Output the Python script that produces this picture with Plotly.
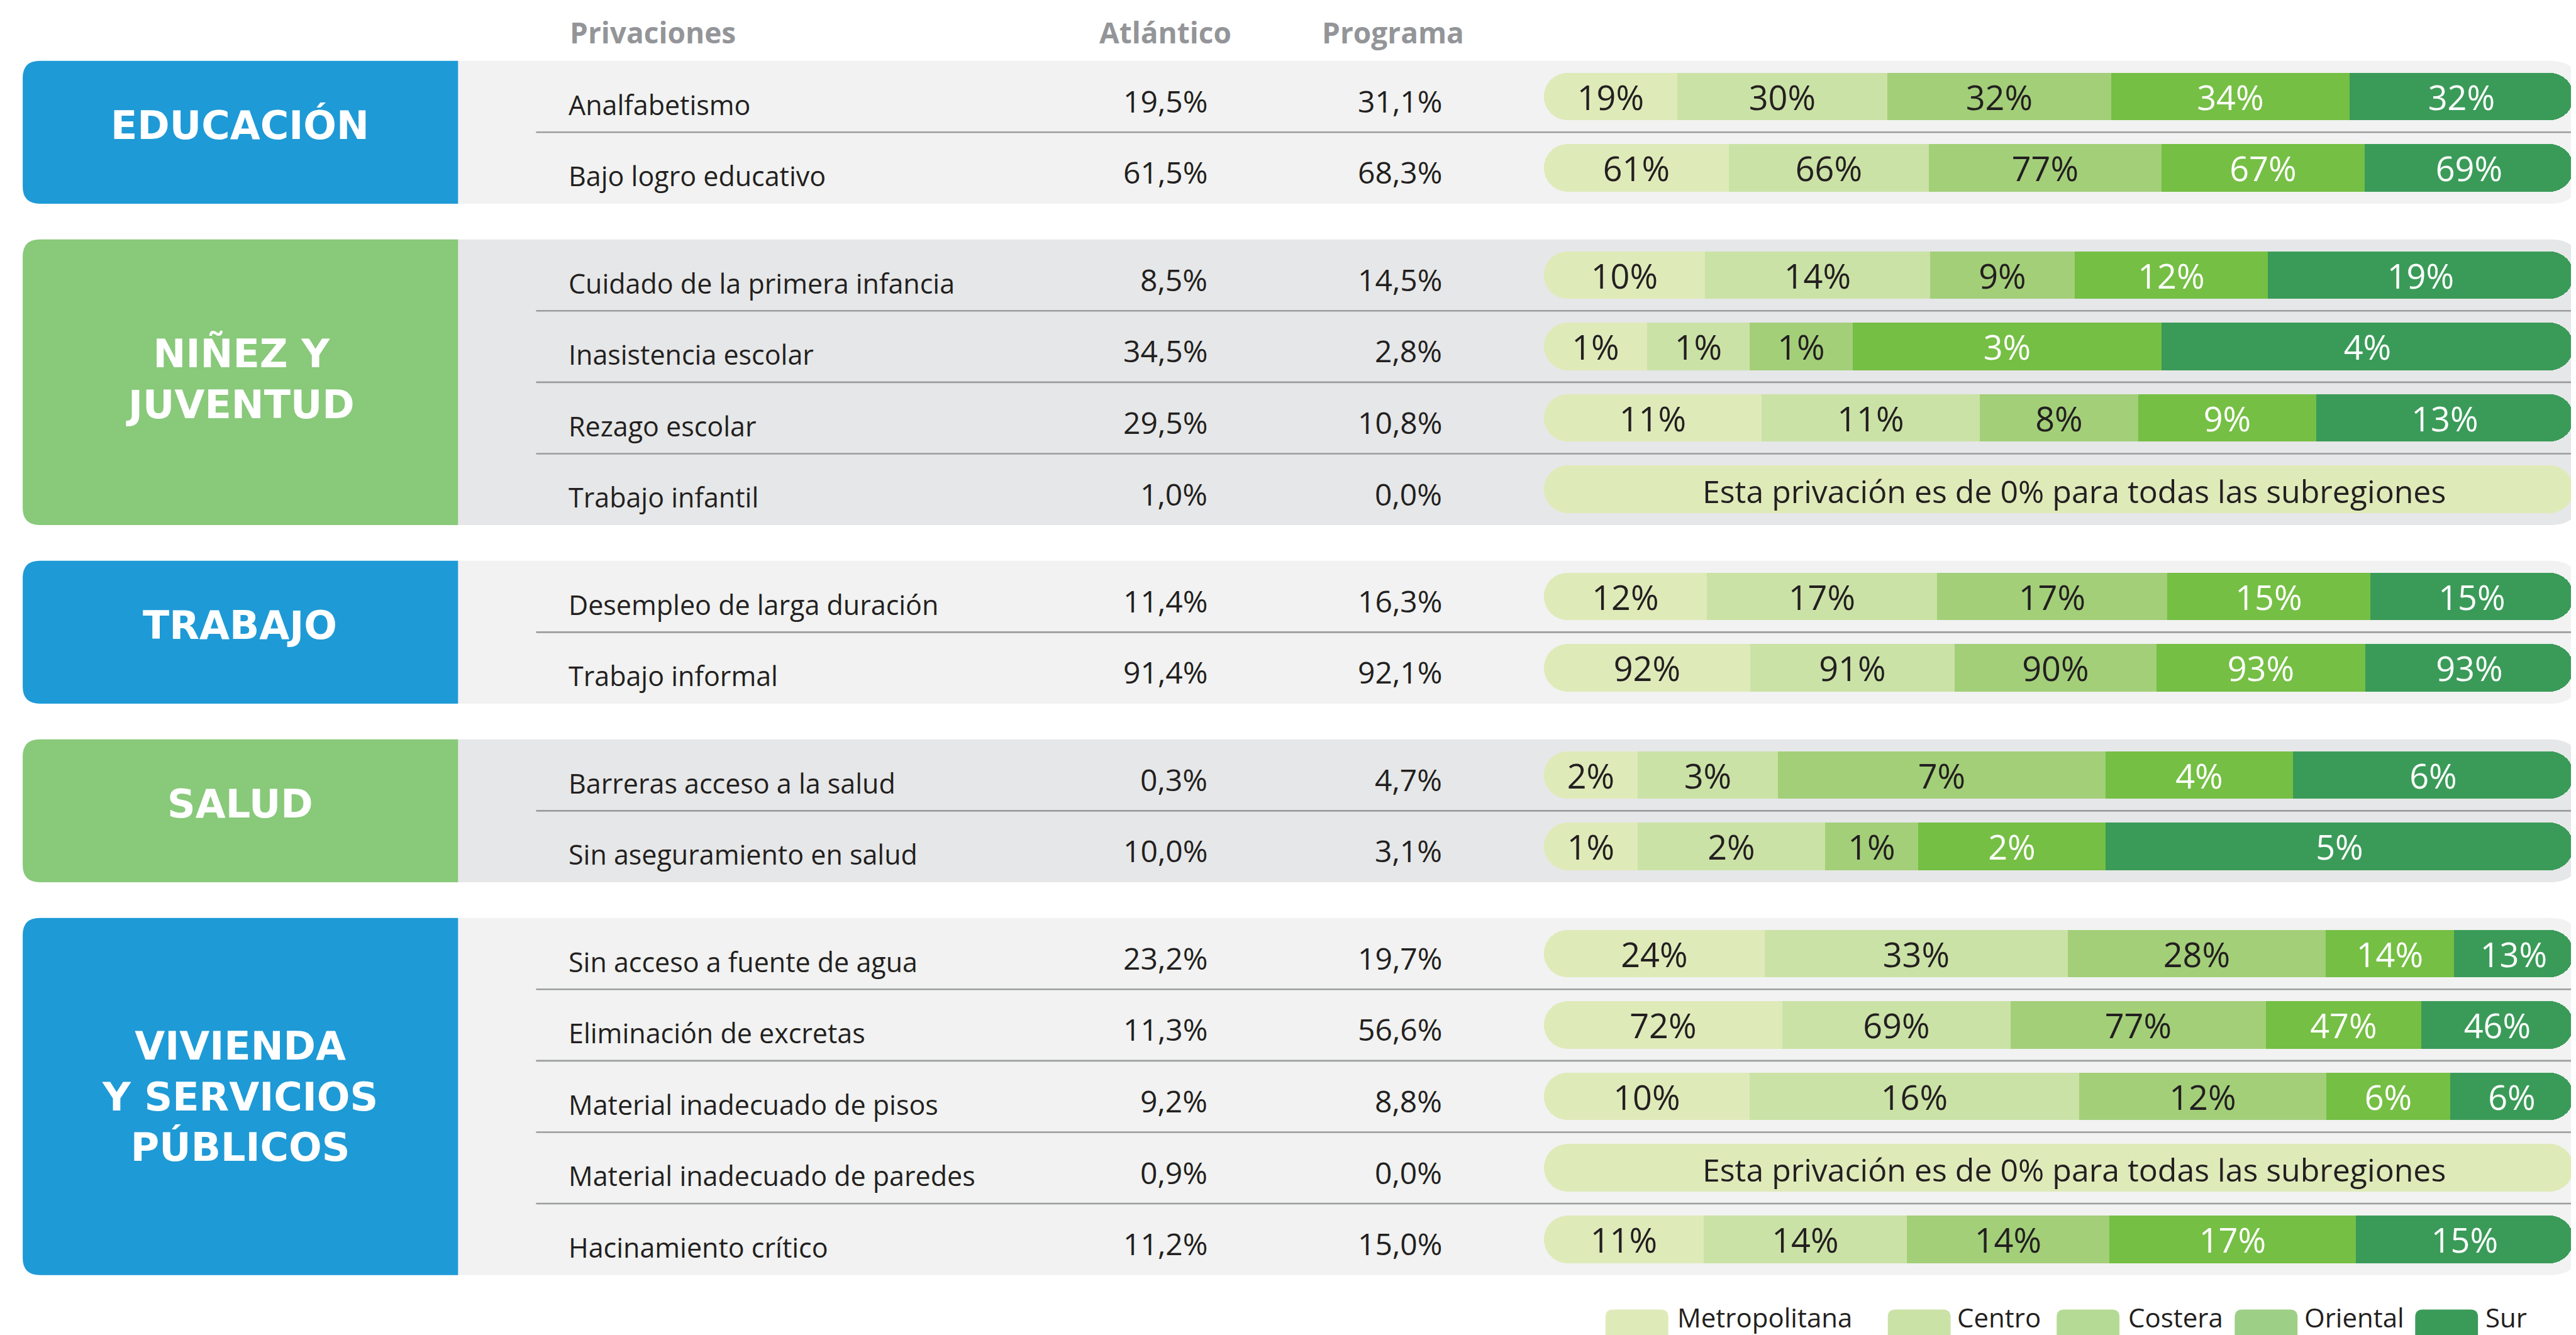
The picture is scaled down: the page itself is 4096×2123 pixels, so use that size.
import plotly.graph_objects as go

# ---------------- data ----------------
privaciones = [
    "Analfabetismo", "Bajo logro educativo",
    "Cuidado de la primera infancia", "Inasistencia escolar", "Rezago escolar", "Trabajo infantil",
    "Desempleo de larga duración", "Trabajo informal",
    "Barreras acceso a la salud", "Sin aseguramiento en salud",
    "Sin acceso a fuente de agua", "Eliminación de excretas", "Material inadecuado de pisos",
    "Material inadecuado de paredes", "Hacinamiento crítico",
]
atlantico = [19.5, 61.5, 8.5, 34.5, 29.5, 1.0, 11.4, 91.4, 0.3, 10.0, 23.2, 11.3, 9.2, 0.9, 11.2]
programa = [31.1, 68.3, 14.5, 2.8, 10.8, 0.0, 16.3, 92.1, 4.7, 3.1, 19.7, 56.6, 8.8, 0.0, 15.0]

subregiones = ["Metropolitana", "Centro", "Costera", "Oriental", "Sur"]
metropolitana = [19, 61, 10, 1, 11, 0, 12, 92, 2, 1, 24, 72, 10, 0, 11]
centro = [30, 66, 14, 1, 11, 0, 17, 91, 3, 2, 33, 69, 16, 0, 14]
costera = [32, 77, 9, 1, 8, 0, 17, 90, 7, 1, 28, 77, 12, 0, 14]
oriental = [34, 67, 12, 3, 9, 0, 15, 93, 4, 2, 14, 47, 6, 0, 17]
sur = [32, 69, 19, 4, 13, 0, 15, 93, 6, 5, 13, 46, 6, 0, 15]
series = [metropolitana, centro, costera, oriental, sur]

secciones = ["EDUCACIÓN", "NIÑEZ Y<br>JUVENTUD", "TRABAJO", "SALUD", "VIVIENDA<br>Y SERVICIOS<br>PÚBLICOS"]
filas_por_seccion = [2, 4, 2, 2, 5]
encabezados = ["Privaciones", "Atlántico", "Programa"]
nota = "Esta privación es de 0% para todas las subregiones"

# ---------------- styles / layout ----------------
W, H = 4096, 2123
REF_W, REF_H = 4225, 2190
S = W / REF_W


def px(v):
    return v * S


def fx(v):
    return v / REF_W


def fy(v):
    return 1 - v / REF_H


BAR_COLORS = ["#dfeab9", "#cbe2a6", "#a3cf79", "#75bf44", "#3a9b58"]
LEG_COLORS = ["#dfeab9", "#cbe2a6", "#b5da96", "#9dcf87", "#3a9b58"]
TXT_COLORS = ["#231f20", "#231f20", "#231f20", "#ffffff", "#ffffff"]
BOX_COLORS = ["#1e9ad6", "#88c97a", "#1e9ad6", "#88c97a", "#1e9ad6"]
BG_COLORS = ["#f1f2f1", "#e6e7e8", "#f1f2f1", "#e6e7e8", "#f1f2f1"]
DARK = "#231f20"
GRAY = "#939598"
FONT = "Open Sans"
FONT_CAT = "DejaVu Sans"
LPAD = 6 / W  # compensate annotation padding for left-anchored texts

# row slot positions (rows + half-row gap between sections)
GAP = 0.5
slots, sec_ranges = [], []
idx = 0
for s, n in enumerate(filas_por_seccion):
    first = idx + GAP * s
    for j in range(n):
        slots.append(first + j)
    sec_ranges.append((first - 0.5, first + n - 1 + 0.5))
    idx += n

A = px(150.1)   # pixel of slot 0
B = px(117.16)  # pixels per slot
y_top = -A / B
y_bot = (H - A) / B

BAR_W = px(78) / B
X0_BAR, X1_BAR = fx(2524), fx(4213)
FILL = 3.0  # data units used to hide inner rounded corners

fig = go.Figure()

# ---------------- bars ----------------
n_rows = len(privaciones)
totals = [sum(s_[r] for s_ in series) for r in range(n_rows)]
rows_ok = [r for r in range(n_rows) if totals[r]]
shares = [[(s_[r] / totals[r] * 100 if totals[r] else 0) for r in range(n_rows)] for s_ in series]
starts = []
for r in range(n_rows):
    c = 0.0
    row = []
    for k in range(len(series)):
        row.append(c)
        c += shares[k][r]
    starts.append(row)

last = len(series) - 1
ys_ok = [slots[r] for r in rows_ok]

# square fillers under the inner ends of the rounded outer segments
fig.add_trace(go.Bar(
    x=[FILL] * len(rows_ok), y=ys_ok, base=[starts[r][1] - FILL for r in rows_ok],
    orientation="h", width=BAR_W, marker=dict(color=BAR_COLORS[0], line=dict(width=0), cornerradius=0),
    hoverinfo="skip", showlegend=False,
))
fig.add_trace(go.Bar(
    x=[FILL] * len(rows_ok), y=ys_ok, base=[starts[r][last] for r in rows_ok],
    orientation="h", width=BAR_W, marker=dict(color=BAR_COLORS[last], line=dict(width=0), cornerradius=0),
    hoverinfo="skip", showlegend=False,
))

for k, name in enumerate(subregiones):
    xs, bases, texts = [], [], []
    for r in rows_ok:
        sh = shares[k][r]
        st = starts[r][k]
        if k == last:
            xs.append(-sh)
            bases.append(st + sh)
        else:
            xs.append(sh)
            bases.append(st)
        texts.append(f"{series[k][r]}%")
    fig.add_trace(go.Bar(
        x=xs, y=ys_ok, base=bases, orientation="h", name=name, width=BAR_W,
        marker=dict(color=BAR_COLORS[k], line=dict(width=0),
                    cornerradius="50%" if k in (0, last) else 0),
        text=texts, textposition="inside", insidetextanchor="middle", textangle=0,
        constraintext="none",
        textfont=dict(family=FONT, size=54, color=TXT_COLORS[k]),
        hoverinfo="skip", showlegend=False,
    ))

# rows where every subregion is 0: full-width placeholder bar with note
zero_rows = [slots[r] for r in range(n_rows) if not totals[r]]
for base, length in ((0, 60), (100, -60)):
    fig.add_trace(go.Bar(
        x=[length] * len(zero_rows), y=zero_rows, base=[base] * len(zero_rows),
        orientation="h", width=BAR_W,
        marker=dict(color=BAR_COLORS[0], line=dict(width=0), cornerradius="50%"),
        hoverinfo="skip", showlegend=False,
    ))

shapes, annotations = [], []

# ---------------- section backgrounds & boxes ----------------
CAT_SHIFT = {1: 11, 2: 5, 3: 0}
for s, (ya, yb) in enumerate(sec_ranges):
    x0, x1 = fx(742), 1.0
    rx, ry = 48 / W, px(54) / B
    shapes.append(dict(
        type="path", xref="paper", yref="y", layer="below", line=dict(width=0),
        fillcolor=BG_COLORS[s],
        path=(f"M {x0},{ya} L {x1 - rx},{ya} Q {x1},{ya} {x1},{ya + ry} "
              f"L {x1},{yb - ry} Q {x1},{yb} {x1 - rx},{yb} L {x0},{yb} Z"),
    ))
    bx0, bx1 = fx(29), fx(743)
    rx, ry = px(28) / W, px(28) / B
    shapes.append(dict(
        type="path", xref="paper", yref="y", layer="below", line=dict(width=0),
        fillcolor=BOX_COLORS[s],
        path=(f"M {bx0 + rx},{ya} L {bx1},{ya} L {bx1},{yb} L {bx0 + rx},{yb} "
              f"Q {bx0},{yb} {bx0},{yb - ry} L {bx0},{ya + ry} Q {bx0},{ya} {bx0 + rx},{ya} Z"),
    ))
    nlines = secciones[s].count("<br>") + 1
    annotations.append(dict(
        text=secciones[s], x=fx(385.5), y=(ya + yb) / 2, xref="paper", yref="y",
        xanchor="center", yanchor="middle", showarrow=False, align="center",
        yshift=CAT_SHIFT[nlines],
        font=dict(family=FONT_CAT, size=62, color="#ffffff", weight="bold"),
    ))

# separators between rows of a section
idx = 0
for s, n in enumerate(filas_por_seccion):
    for j in range(n - 1):
        ysep = (slots[idx + j] + slots[idx + j + 1]) / 2
        shapes.append(dict(
            type="line", xref="paper", yref="y", layer="below",
            x0=fx(871), x1=1.0, y0=ysep, y1=ysep,
            line=dict(color="#9b9c9e", width=2.6),
        ))
    idx += n


def fmt(v):
    return f"{v:.1f}".replace(".", ",") + "%"


# ---------------- row texts ----------------
for r in range(n_rows):
    annotations.append(dict(
        text=privaciones[r], x=fx(928) - LPAD, y=slots[r], xref="paper", yref="y",
        xanchor="left", yanchor="middle", yshift=-px(13), showarrow=False,
        font=dict(family=FONT, size=43, color=DARK),
    ))
    annotations.append(dict(
        text=fmt(atlantico[r]), x=fx(1974), y=slots[r], xref="paper", yref="y",
        xanchor="right", yanchor="middle", yshift=-px(7), showarrow=False,
        font=dict(family=FONT, size=48, color=DARK),
    ))
    annotations.append(dict(
        text=fmt(programa[r]), x=fx(2359), y=slots[r], xref="paper", yref="y",
        xanchor="right", yanchor="middle", yshift=-px(7), showarrow=False,
        font=dict(family=FONT, size=48, color=DARK),
    ))
    if not totals[r]:
        annotations.append(dict(
            text=nota, x=51.5, y=slots[r], xref="x", yref="y",
            xanchor="center", yanchor="middle", yshift=-px(3), showarrow=False,
            font=dict(family=FONT, size=50, color=DARK),
        ))

# ---------------- headers ----------------
for txt, xpos, anchor in zip(encabezados, [fx(930) - LPAD, fx(1903), fx(2276)], ["left", "center", "center"]):
    annotations.append(dict(
        text=txt, x=xpos, y=fy(44), xref="paper", yref="paper",
        xanchor=anchor, yanchor="middle", showarrow=False,
        font=dict(family=FONT, size=46, color=GRAY, weight=700),
    ))

# ---------------- legend ----------------
LEG_SW = [2625, 3088, 3365, 3657, 3953]
LEG_TX = [2747, 3206, 3486, 3775, 4072]
for k, name in enumerate(subregiones):
    x0, x1 = fx(LEG_SW[k]), fx(LEG_SW[k] + 103)
    y0, y1 = fy(2140), fy(2200)
    rx, ry = 12 / W, 12 / H
    shapes.append(dict(
        type="path", xref="paper", yref="paper", line=dict(width=0), fillcolor=LEG_COLORS[k],
        path=(f"M {x0},{y1} L {x0},{y0 - ry} Q {x0},{y0} {x0 + rx},{y0} L {x1 - rx},{y0} "
              f"Q {x1},{y0} {x1},{y0 - ry} L {x1},{y1} Z"),
    ))
    annotations.append(dict(
        text=name, x=fx(LEG_TX[k]) - LPAD, y=fy(2152), xref="paper", yref="paper",
        xanchor="left", yanchor="middle", showarrow=False,
        font=dict(family=FONT, size=42, color=DARK),
    ))

fig.update_layout(
    width=W, height=H, margin=dict(l=0, r=0, t=0, b=0),
    paper_bgcolor="#ffffff", plot_bgcolor="rgba(0,0,0,0)",
    barmode="overlay", bargap=0,
    uniformtext=dict(mode="show", minsize=54),
    xaxis=dict(domain=[X0_BAR, X1_BAR], range=[0, 100], visible=False, fixedrange=True),
    yaxis=dict(range=[y_bot, y_top], visible=False, fixedrange=True),
    shapes=shapes, annotations=annotations, showlegend=False,
    font=dict(family=FONT),
)

fig.write_html("out.html")
